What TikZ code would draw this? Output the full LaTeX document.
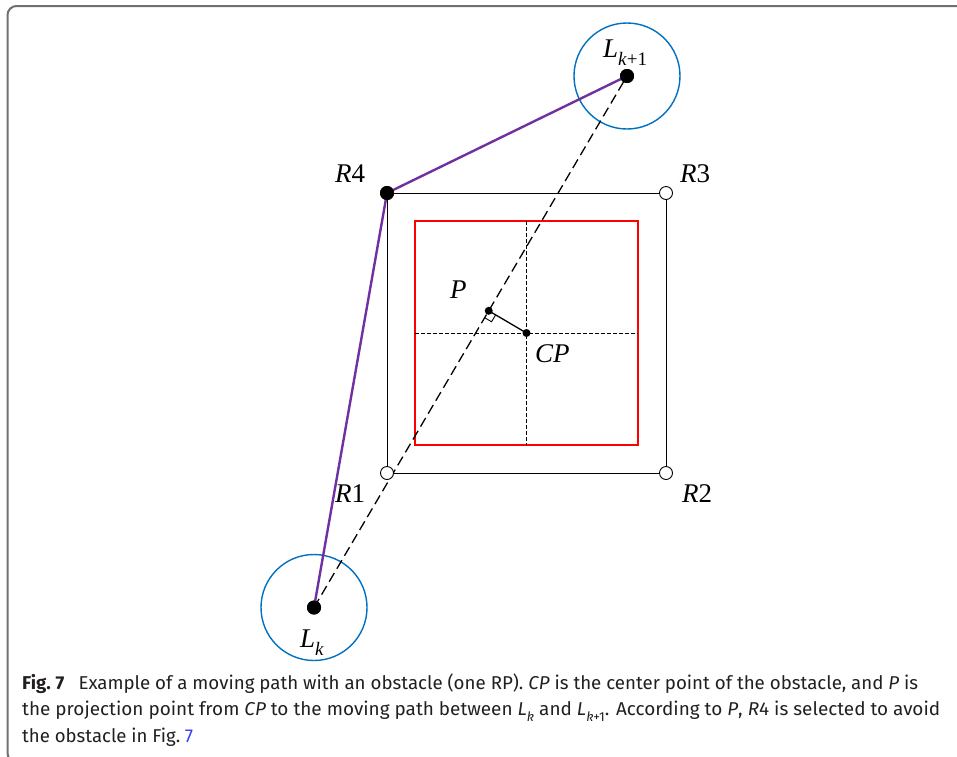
\documentclass[tikz,border=0pt]{standalone}
\usepackage{fontspec}
\usepackage{graphicx}
\setmainfont{Liberation Serif}
\newfontfamily\capfont{Fira Sans}
\usetikzlibrary{calc}
\definecolor{pathpurple}{HTML}{7030A0}
\definecolor{ringblue}{HTML}{0070C0}
\definecolor{linkblue}{HTML}{3B3BFF}
\definecolor{framegray}{HTML}{707070}
\definecolor{captext}{HTML}{231F20}
\newcommand{\subsc}[1]{\raisebox{-0.3em}{\fontsize{19}{21}\selectfont #1}}
\newcommand{\capsub}[1]{\raisebox{-0.3em}{\fontsize{13}{14}\selectfont #1}}
\newsavebox\capfitbox
\newcommand{\fitline}[2]{\sbox\capfitbox{#2}\scalebox{\fpeval{#1/(\the\wd\capfitbox)}}[1]{\usebox\capfitbox}}
\begin{document}
\begin{tikzpicture}[x=1pt,y=-1pt,
  lbl/.style={font=\fontsize{27}{30}\selectfont, inner sep=0pt, anchor=base west},
  capline/.style={font=\capfont\fontsize{18.6}{22}\selectfont, text=captext, inner sep=0pt, anchor=base west},
  bigdot/.style={circle, fill=black, inner sep=0pt, minimum size=14pt},
  smalldot/.style={circle, fill=black, inner sep=0pt, minimum size=8pt},
  cornerring/.style={circle, draw=black, line width=0.9pt, fill=white, inner sep=0pt, minimum size=13pt},
  ring/.style={circle, draw=ringblue, line width=1.4pt, inner sep=0pt, minimum size=106pt},
  route/.style={draw=pathpurple, line width=2.4pt},
  mainlink/.style={draw=black, line width=1.3pt, dash pattern=on 10pt off 5pt},
  cross/.style={draw=black, line width=0.9pt, dash pattern=on 3.5pt off 2.5pt},
  boxline/.style={draw=black, line width=1pt},
  obst/.style={draw=red, line width=1.2pt}
]
\useasboundingbox (0,0) rectangle (957,756);
% frame
\draw[framegray, line width=2pt, rounded corners=9pt] (7.5,6) rectangle (990,762);

% geometry
\coordinate (Lk) at (314,607.5);
\coordinate (Lk1) at (627,76);
\coordinate (CPc) at (526.5,333);
\coordinate (Pc) at ($(Lk)!(CPc)!(Lk1)$);
\coordinate (c1) at (387,473);
\coordinate (c2) at (666,473);
\coordinate (c3) at (666,193);
\coordinate (c4) at (387,193);

% circles around targets
\node[ring] (ringk) at (Lk) {};
\node[ring] (ringk1) at (Lk1) {};

% outer square
\draw[boxline] (c1) -- (c2) -- (c3) -- (c4) -- cycle;
% obstacle
\draw[obst] (415,221) rectangle (638,445);
\coordinate (hl) at (415,333);
\coordinate (hr) at (638,333);
\coordinate (vt) at (526.5,221);
\coordinate (vb) at (526.5,445);
\draw[cross] (hl) -- (hr);
\draw[cross] (vt) -- (vb);

% straight dashed link
\draw[mainlink] (Lk) -- (Lk1);

% projection
\node[smalldot] (CP) at (CPc) {};
\node[smalldot] (P) at (Pc) {};
\draw[line width=1.3pt] (P.center) -- (CP.center);
\coordinate (ra1) at ($(Pc)!8pt!(Lk)$);
\coordinate (ra2) at ($(Pc)!8pt!(CPc)$);
\coordinate (ra3) at ($(ra1)+(ra2)-(Pc)$);
\draw[line width=0.9pt] (ra1) -- (ra3) -- (ra2);

% corner markers
\node[cornerring] (R1) at (c1) {};
\node[cornerring] (R2) at (c2) {};
\node[cornerring] (R3) at (c3) {};

% chosen route
\node[bigdot] (Lkdot) at (Lk) {};
\node[bigdot] (Lk1dot) at (Lk1) {};
\node[bigdot] (R4) at (c4) {};
\draw[route] (Lkdot.center) -- (R4.center) -- (Lk1dot.center);
\node[bigdot] at (Lk) {};
\node[bigdot] at (Lk1) {};
\node[bigdot] at (c4) {};

% labels
\node[lbl] (tLk1) at (603,57) {\textit{L}\subsc{\textit{k}+1}};
\node[lbl] (tR4) at (335,182) {\textit{R}4};
\node[lbl] (tR3) at (680,182) {\textit{R}3};
\node[lbl] (tP) at (450,298) {\textit{P}};
\node[lbl] (tCP) at (535,362) {\textit{CP}};
\node[lbl] (tR1) at (335,502) {\textit{R}1};
\node[lbl] (tR2) at (682,502) {\textit{R}2};
\node[lbl] (tLk) at (300,647) {\textit{L}\subsc{\textit{k}}};

% caption
\node[capline] (cap1) at (22,689) {\fitline{896}{\textbf{Fig.\kern0.25em7}\hspace{0.5em} Example of a moving path with an obstacle (one RP). \textit{CP} is the center point of the obstacle, and \textit{P} is}};
\node[capline] (cap2) at (22,715.5) {\fitline{918}{the projection point from \textit{CP} to the moving path between \textit{L}\capsub{\textit{k}} and \textit{L}\capsub{\textit{k}+1}. According to \textit{P}, \textit{R}4 is selected to avoid}};
\node[capline] (cap3) at (22,742) {\fitline{171}{the obstacle in Fig.\kern0.25em\textcolor{linkblue}{7}}};
\end{tikzpicture}
\end{document}
